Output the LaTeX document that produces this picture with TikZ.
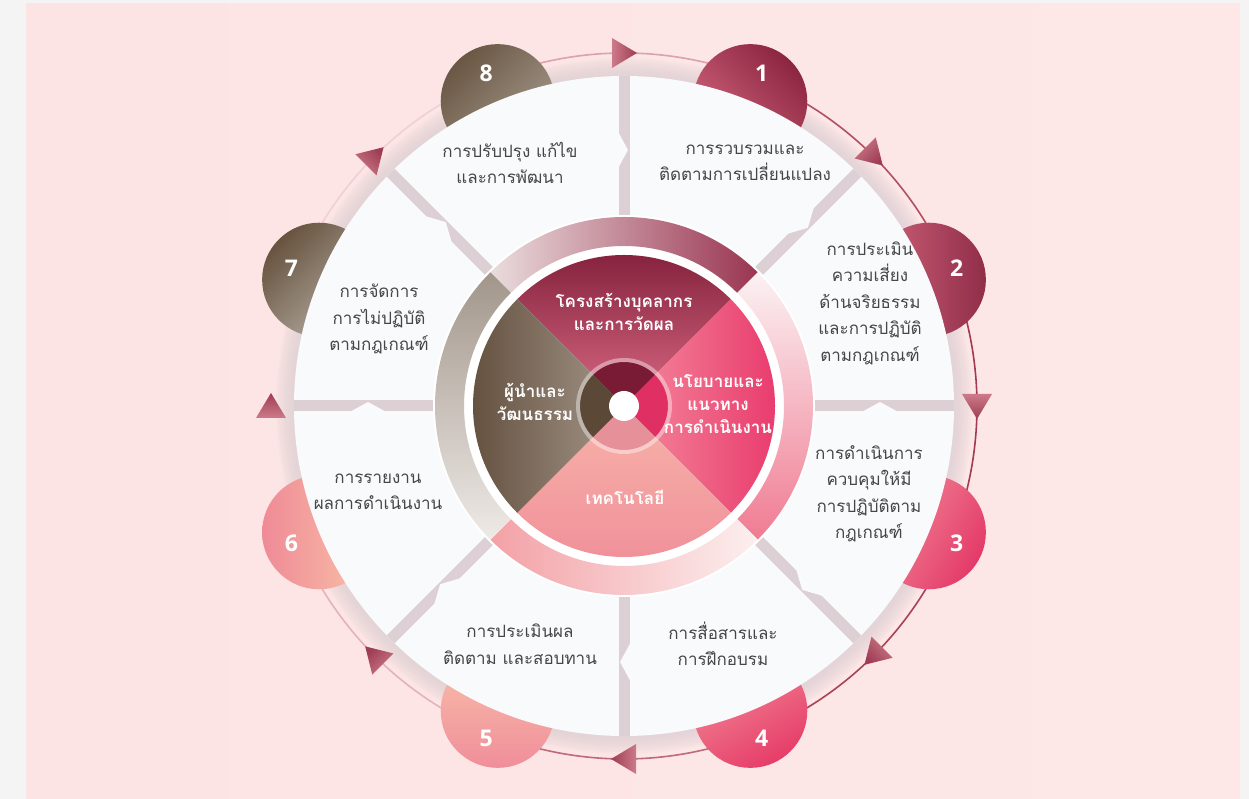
\documentclass[tikz,border=0pt]{standalone}
\usepackage{fontspec}
\setmainfont{Open Sans}
\newfontfamily\thaifont[Script=Thai]{Loma}
\usetikzlibrary{calc}
\definecolor{bgout}{HTML}{F4F4F4}
\definecolor{pkL}{HTML}{FDE4E4}
\definecolor{pkM}{HTML}{FCF0F3}
\definecolor{pkR}{HTML}{FDE7E7}
\definecolor{gapc}{HTML}{DDD0D4}
\definecolor{segc}{HTML}{F9FAFC}
\definecolor{txtc}{HTML}{464646}
\definecolor{rA}{HTML}{DBA2AC}
\definecolor{rB}{HTML}{B14F63}
\definecolor{rC}{HTML}{A23A52}
\definecolor{rD}{HTML}{A84357}
\definecolor{rE}{HTML}{BE6A7A}
\definecolor{rF}{HTML}{E2B3BB}
\definecolor{rG}{HTML}{F8E6E8}
\definecolor{rH}{HTML}{EED0D5}
\definecolor{arrD}{HTML}{9E3D54}
\definecolor{arrL}{HTML}{CC7A89}
\definecolor{b1t}{HTML}{8C2541}\definecolor{b1b}{HTML}{D4687E}
\definecolor{b2t}{HTML}{902E49}\definecolor{b2b}{HTML}{D0627A}
\definecolor{b3t}{HTML}{E43A69}\definecolor{b3b}{HTML}{F28B99}
\definecolor{b4t}{HTML}{E63D68}\definecolor{b4b}{HTML}{F38C99}
\definecolor{b5t}{HTML}{F8C0AA}\definecolor{b5b}{HTML}{F08E9A}
\definecolor{b6t}{HTML}{EF8A96}\definecolor{b6b}{HTML}{F9C4A8}
\definecolor{b7t}{HTML}{67533F}\definecolor{b7b}{HTML}{B8B0A6}
\definecolor{b8t}{HTML}{6A5744}\definecolor{b8b}{HTML}{A89D90}
\definecolor{h1l}{HTML}{EADCDC}\definecolor{h1r}{HTML}{9A3552}
\definecolor{h2t}{HTML}{FBF2F3}\definecolor{h2b}{HTML}{F07B92}
\definecolor{h3l}{HTML}{F3A1A6}\definecolor{h3r}{HTML}{FCEFEF}
\definecolor{h4t}{HTML}{A2968B}\definecolor{h4b}{HTML}{EEEAE7}
\definecolor{q1t}{HTML}{7E1C38}\definecolor{q1b}{HTML}{D96A83}
\definecolor{q2l}{HTML}{F48A9C}\definecolor{q2r}{HTML}{E8356A}
\definecolor{q3t}{HTML}{F7B3AA}\definecolor{q3b}{HTML}{F08E99}
\definecolor{q4l}{HTML}{5F4B39}\definecolor{q4r}{HTML}{A4978B}
\definecolor{c1}{HTML}{7A1B36}
\definecolor{c2}{HTML}{E02F62}
\definecolor{c3}{HTML}{E6909A}
\definecolor{c4}{HTML}{5B4836}

\begin{document}
\begin{tikzpicture}[x=1pt,y=1pt,
    stxt/.style={font=\thaifont\fontsize{17}{26.5}\selectfont,text=txtc,align=center},
    ctxt/.style={font=\thaifont\bfseries\fontsize{17}{23}\selectfont,text=white,align=center},
    ntxt/.style={font=\bfseries\fontsize{23}{23}\selectfont,text=white}]
  \useasboundingbox (0,0) rectangle (1249,799);
  \fill[bgout] (0,0) rectangle (1249,799);
  \shade[left color=pkL,middle color=pkM,right color=pkR] (26,0) rectangle (1240,795);
  \coordinate (C) at (624,393);
  \foreach \r in {348,346,...,332}
    \fill[gapc,opacity=0.13] (C) circle (\r);
  \foreach \a/\c in {112.5/rA,67.5/rB,22.5/rC,-22.5/rD,-67.5/rE,-112.5/rF,-157.5/rG,-202.5/rH}
    \draw[\c,line width=1.6] ($(C)+(\a:353)$) arc (\a:\a-45:353);
  \foreach \a in {90,45,0,-45,-90,-135,-180,-225}{
    \pgfmathsetmacro\sa{\a-180}
    \shade[top color=arrD,bottom color=arrL,shading angle=\sa]
      ($(C)+(\a:353)+(\a-90:13)$) -- ($(C)+(\a:353)+(\a+90:12)+(\a:15)$)
      -- ($(C)+(\a:353)+(\a+90:12)+(\a:-15)$) -- cycle;
  }
  \foreach \a/\t/\b/\s in {67.5/b1t/b1b/-45,22.5/b2t/b2b/-90,-22.5/b3t/b3b/-120,-67.5/b4t/b4b/-150,
      -112.5/b5t/b5b/0,-157.5/b6t/b6b/90,-202.5/b7t/b7b/45,-247.5/b8t/b8b/45}
    \shade[top color=\t,bottom color=\b,shading angle=\s] ($(C)+(\a:330)$) circle (57);
  \fill[segc] (C) circle (330);
  \foreach \a in {0,45,...,315}
    \draw[gapc,line width=11] (C) -- ($(C)+(\a:330)$);
  \foreach \a/\s in {90/1,45/1,0/-1,-45/1,-90/1,-135/1,-180/1,-225/1}
    \fill[segc] ($(C)+(\a:234)+(\a+90*\s:8)$) -- ($(C)+(\a:256)+(\a+90*\s:-4)$)
      -- ($(C)+(\a:278)+(\a+90*\s:8)$) -- cycle;
  \fill[white] (C) circle (191);
  \shade[left color=h1l,right color=h1r] ($(C)+(135:189)$) arc (135:45:189) -- ($(C)+(45:160)$) arc (45:135:160) -- cycle;
  \shade[top color=h2t,bottom color=h2b] ($(C)+(45:189)$) arc (45:-45:189) -- ($(C)+(-45:160)$) arc (-45:45:160) -- cycle;
  \shade[left color=h3l,right color=h3r] ($(C)+(-45:189)$) arc (-45:-135:189) -- ($(C)+(-135:160)$) arc (-135:-45:160) -- cycle;
  \shade[top color=h4t,bottom color=h4b] ($(C)+(-135:189)$) arc (-135:-225:189) -- ($(C)+(135:160)$) arc (135:225:160) -- cycle;
  \fill[white] (C) circle (158);
  \shade[top color=q1t,bottom color=q1b] (C) -- ($(C)+(45:151)$) arc (45:135:151) -- cycle;
  \shade[left color=q2l,right color=q2r] (C) -- ($(C)+(-45:151)$) arc (-45:45:151) -- cycle;
  \shade[top color=q3t,bottom color=q3b] (C) -- ($(C)+(-135:151)$) arc (-135:-45:151) -- cycle;
  \shade[left color=q4l,right color=q4r] (C) -- ($(C)+(135:151)$) arc (135:225:151) -- cycle;
  \fill[c1] (C) -- ($(C)+(45:44)$) arc (45:135:44) -- cycle;
  \fill[c2] (C) -- ($(C)+(-45:44)$) arc (-45:45:44) -- cycle;
  \fill[c3] (C) -- ($(C)+(-135:44)$) arc (-135:-45:44) -- cycle;
  \fill[c4] (C) -- ($(C)+(135:44)$) arc (135:225:44) -- cycle;
  \draw[white,opacity=0.4,line width=4] (C) circle (46);
  \fill[white] (C) circle (15);

  \node[ctxt] (q1) at (624,487) {โครงสร้างบุคลากร\\และการวัดผล};
  \node[ctxt] (q2) at (718,395) {นโยบายและ\\แนวทาง\\การดำเนินงาน};
  \node[ctxt] (q3) at (625,302) {เทคโนโลยี};
  \node[ctxt] (q4) at (535,397) {ผู้นำและ\\วัฒนธรรม};

  \node[stxt] (s1) at (745,636) {การรวบรวมและ\\ติดตามการเปลี่ยนแปลง};
  \node[stxt] (s2) at (870,496) {การประเมิน\\ความเสี่ยง\\ด้านจริยธรรม\\และการปฏิบัติ\\ตามกฎเกณฑ์};
  \node[stxt] (s3) at (869,305) {การดำเนินการ\\ควบคุมให้มี\\การปฏิบัติตาม\\กฎเกณฑ์};
  \node[stxt] (s4) at (723,155) {การสื่อสารและ\\การฝึกอบรม};
  \node[stxt] (s5) at (520,155) {การประเมินผล\\ติดตาม และสอบทาน};
  \node[stxt] (s6) at (378,307) {การรายงาน\\ผลการดำเนินงาน};
  \node[stxt] (s7) at (379,480) {การจัดการ\\การไม่ปฏิบัติ\\ตามกฎเกณฑ์};
  \node[stxt] (s8) at (510,636) {การปรับปรุง แก้ไข\\และการพัฒนา};

  \foreach \i in {1,...,8}
    \node[ntxt] (n\i) at ($(C)+(112.5-45*\i:360)$) {\i};
\end{tikzpicture}
\end{document}
